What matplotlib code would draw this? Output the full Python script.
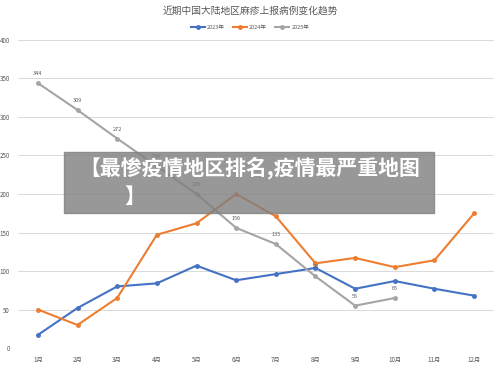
import numpy as np
import matplotlib.pyplot as plt
from matplotlib.patches import Rectangle

plt.rcParams['font.family'] = ['Noto Sans CJK SC', 'DejaVu Sans']

months = ["1月", "2月", "3月", "4月", "5月", "6月", "7月", "8月", "9月", "10月", "11月", "12月"]
y2023 = [17, 52, 80, 84, 107, 88, 96, 104, 77, 87, 77, 68]
y2024 = [50, 30, 65, 147, 162, 200, 171, 110, 117, 105, 114, 175]
y2025 = [344, 309, 272, 236, 200, 156, 135, 93, 55, 65]
labels2025 = ["344", "309", "272", "236", "200", "156", "135", "93", "55", "65"]
yticks = [0, 50, 100, 150, 200, 250, 300, 350, 400]

fig = plt.figure(figsize=(5, 3.66), dpi=100)
ax = fig.add_axes([0.036, 0.049, 0.952, 0.842])

x = np.arange(len(months))
ax.plot(x, y2023, color="#4472C4", lw=1.5, marker="o", ms=2.5, label="2023年")
ax.plot(x, y2024, color="#ED7D31", lw=1.5, marker="o", ms=2.5, label="2024年")
x25 = np.arange(len(y2025))
ax.plot(x25, y2025, color="#A5A5A5", lw=1.5, marker="o", ms=2.5, label="2025年")
for xi, yi, t in zip(x25, y2025, labels2025):
    ax.annotate(t, (xi, yi), xytext=(0, 5), textcoords="offset points",
                ha="center", va="bottom", fontsize=4, color="#595959")

ax.set_xlim(-0.5, 11.5)
ax.set_ylim(0, 400)
ax.set_xticks(x)
ax.set_xticklabels(months, fontsize=4.5, color="#595959")
ax.set_yticks(yticks)
ax.set_yticklabels([str(v) for v in yticks], fontsize=4.5, color="#595959")
ax.tick_params(length=0, pad=6)
ax.grid(axis="y", color="#D9D9D9", lw=0.7)
ax.set_axisbelow(True)
for s in ax.spines.values():
    s.set_visible(False)

fig.text(0.5, 0.972, "近期中国大陆地区麻疹上报病例变化趋势", ha="center", va="center",
         fontsize=7, color="#595959")
fig.legend(loc="center", bbox_to_anchor=(0.5, 0.926), ncol=3, frameon=False,
           fontsize=4, handlelength=2.5, columnspacing=1.5, handletextpad=0.4,
           labelcolor="#595959")

# banner overlay
fig.patches.append(Rectangle((64 / 500, 1 - 213 / 366), 370 / 500, 61 / 366,
                             transform=fig.transFigure, color="#7f7f7f", alpha=0.8, zorder=5))
fig.text(0.5, 1 - 168 / 366, "【最惨疫情地区排名,疫情最严重地图", ha="center", va="center",
         fontsize=15, color="white", fontweight="bold", zorder=6)
fig.text(0.27, 1 - 196 / 366, "】", ha="center", va="center",
         fontsize=15, color="white", fontweight="bold", zorder=6)

fig.savefig("out.png", dpi=100)
